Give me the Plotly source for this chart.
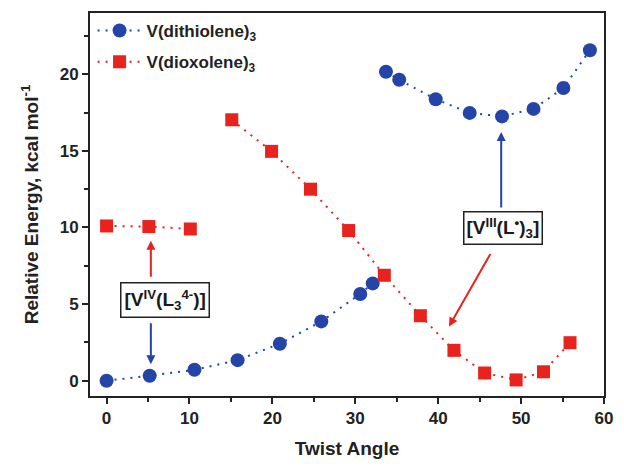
import plotly.graph_objects as go

# Data
dithiolene_x = [0, 5.2, 10.6, 15.8, 20.9, 25.9, 30.6, 32.1, None, 33.7, 35.3, 39.7, 43.8, 47.7, 51.5, 55.1, 58.3]
dithiolene_y = [0, 0.32, 0.71, 1.34, 2.41, 3.87, 5.66, 6.35, None, 20.17, 19.64, 18.37, 17.48, 17.25, 17.74, 19.1, 21.57]

dioxolene_x = [0, 5.1, 10.1, None, 15.1, 19.9, 24.6, 29.2, 33.5, 37.85, 41.9, 45.6, 49.4, 52.7, 55.9]
dioxolene_y = [10.1, 10.06, 9.9, None, 17.03, 14.97, 12.5, 9.8, 6.88, 4.24, 1.98, 0.5, 0.05, 0.58, 2.48]

BLUE = "#2444a8"
RED = "#e8231e"
FONT = "Liberation Sans, Arial, sans-serif"

fig = go.Figure()
fig.add_trace(go.Scatter(
    x=dithiolene_x, y=dithiolene_y, mode="lines+markers",
    name="V(dithiolene)<sub>3</sub>", legendgroup="a",
    line=dict(color=BLUE, dash="2px,6px", width=2),
    marker=dict(symbol="circle", size=14, color=BLUE),
))
fig.add_trace(go.Scatter(
    x=dioxolene_x, y=dioxolene_y, mode="lines+markers",
    name="V(dioxolene)<sub>3</sub>", legendgroup="b",
    line=dict(color=RED, dash="2px,6px", width=2),
    marker=dict(symbol="square", size=13, color=RED),
))

def arrow(x0, y0, x1, y1, color):
    fig.add_annotation(x=x1, y=y1, ax=x0, ay=y0, xref="x", yref="y", axref="x", ayref="y",
                       text="", showarrow=True, arrowhead=2, arrowsize=0.9, arrowwidth=2,
                       arrowcolor=color)

arrow(5.34, 6.69, 5.34, 9.14, RED)
arrow(5.34, 3.85, 5.34, 1.08, BLUE)
arrow(47.6, 11.2, 47.6, 16.24, BLUE)
arrow(46.4, 8.37, 41.3, 3.53, RED)

box_font = dict(family=FONT, size=19, color="#1a1a1a", weight="bold")
fig.add_annotation(x=7.0, y=5.27, xref="x", yref="y", showarrow=False,
                   text="[V<sup>IV</sup>(L<sub>3</sub><sup>4-</sup>)]",
                   font=box_font, bgcolor="white", bordercolor="#222", borderwidth=1.5, borderpad=3)
fig.add_annotation(x=47.8, y=9.98, xref="x", yref="y", showarrow=False,
                   text="[V<sup>III</sup>(L<sup>•</sup>)<sub>3</sub>]",
                   font=box_font, bgcolor="white", bordercolor="#222", borderwidth=1.5, borderpad=2)

tickfont = dict(family=FONT, size=17, color="#222", weight="bold")
titlefont = dict(family=FONT, size=19, color="#222", weight="bold")

fig.update_layout(
    width=624, height=467,
    margin=dict(l=90, r=11, t=13, b=64),
    paper_bgcolor="white", plot_bgcolor="white",
    showlegend=True,
    legend=dict(x=0.005, y=1.0, xanchor="left", yanchor="top", bgcolor="rgba(0,0,0,0)",
                font=dict(family=FONT, size=17, color="#222", weight="bold"),
                tracegroupgap=6, itemwidth=44),
    xaxis=dict(range=[-2, 60], showline=True, linecolor="#222", linewidth=2, mirror=True,
               ticks="outside", ticklen=6, tickwidth=2, tickcolor="#222", dtick=10, tick0=0,
               minor=dict(ticks="outside", ticklen=4, tickwidth=2, tickcolor="#222", dtick=5),
               showgrid=False, zeroline=False, tickfont=tickfont,
               title=dict(text="Twist Angle", font=titlefont, standoff=14)),
    yaxis=dict(range=[-1, 24], showline=True, linecolor="#222", linewidth=2, mirror=True,
               ticks="outside", ticklen=6, tickwidth=2, tickcolor="#222", dtick=5, tick0=0,
               minor=dict(ticks="outside", ticklen=4, tickwidth=2, tickcolor="#222", dtick=2.5),
               showgrid=False, zeroline=False, tickfont=tickfont,
               title=dict(text="Relative Energy, kcal mol<sup>-1</sup>", font=titlefont, standoff=16)),
)

fig.write_html("out.html")
